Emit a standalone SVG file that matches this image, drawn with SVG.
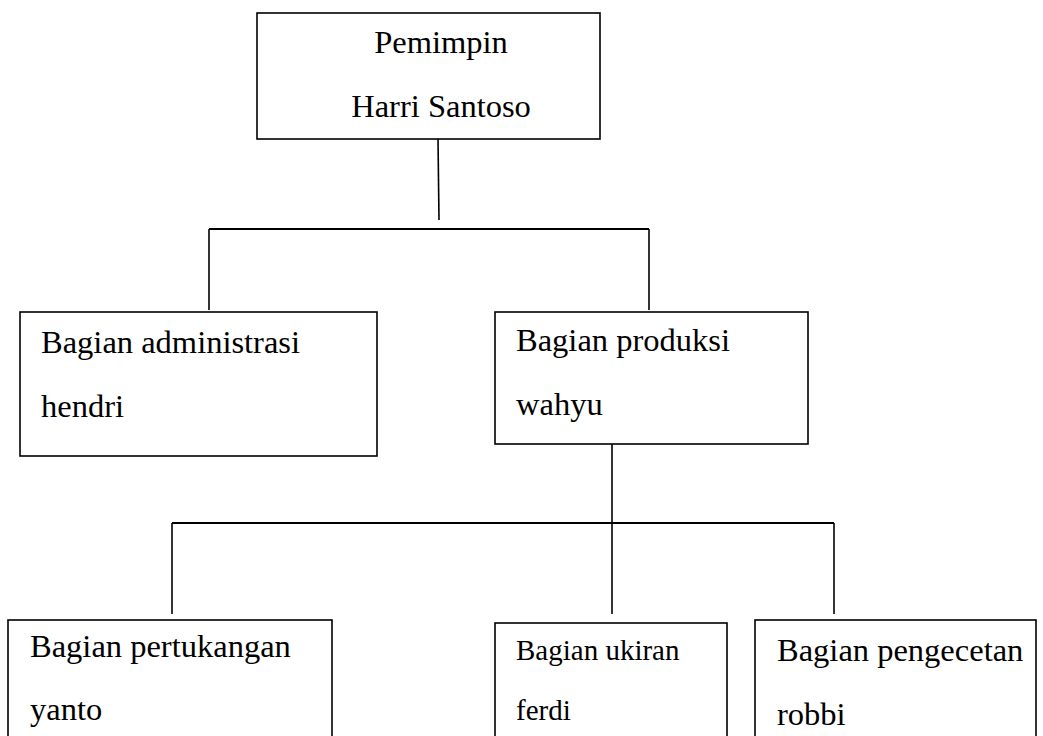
<svg xmlns="http://www.w3.org/2000/svg" width="1043" height="736" viewBox="0 0 1043 736">
<style>
.box{fill:#fff;stroke:#000;stroke-width:1.6}
.ln{stroke:#000;stroke-width:1.6;fill:none}
.hl{stroke:#000;stroke-width:2.2;fill:none}
text{font-family:"Liberation Serif","Times New Roman",serif;font-size:32.5px;fill:#000}
.sm{font-size:29px}
</style>
<rect width="1043" height="736" fill="#fff"/>
<g id="connectors">
<line class="ln" x1="438" y1="139" x2="439" y2="220"/>
<line class="hl" x1="209" y1="229" x2="649" y2="229"/>
<line class="ln" x1="209" y1="229" x2="209" y2="310"/>
<line class="ln" x1="649" y1="229" x2="649" y2="310"/>
<line class="ln" x1="612" y1="444" x2="612" y2="614"/>
<line class="hl" x1="172" y1="523" x2="834" y2="523"/>
<line class="ln" x1="172" y1="523" x2="172" y2="614"/>
<line class="ln" x1="834" y1="523" x2="834" y2="614"/>
</g>
<g id="pemimpin">
<rect class="box" x="257" y="13" width="343" height="126"/>
<text x="441" y="53" text-anchor="middle">Pemimpin</text>
<text x="441" y="117" text-anchor="middle">Harri Santoso</text>
</g>
<g id="administrasi">
<rect class="box" x="20" y="312" width="357" height="144"/>
<text x="41" y="353">Bagian administrasi</text>
<text x="41" y="417">hendri</text>
</g>
<g id="produksi">
<rect class="box" x="495" y="312" width="313" height="132"/>
<text x="516" y="351">Bagian produksi</text>
<text x="516" y="415">wahyu</text>
</g>
<g id="pertukangan">
<rect class="box" x="8" y="620" width="324" height="140"/>
<text x="30" y="657">Bagian pertukangan</text>
<text x="30" y="720">yanto</text>
</g>
<g id="ukiran">
<rect class="box" x="495" y="623" width="232" height="140"/>
<text class="sm" x="516" y="660">Bagian ukiran</text>
<text class="sm" x="516" y="720">ferdi</text>
</g>
<g id="pengecetan">
<rect class="box" x="755" y="620" width="281" height="140"/>
<text x="777" y="661">Bagian pengecetan</text>
<text x="777" y="725">robbi</text>
</g>
</svg>
